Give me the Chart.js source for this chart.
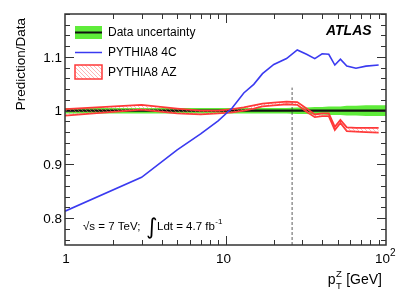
<!DOCTYPE html>
<html>
<head>
<meta charset="utf-8">
<script src="https://cdn.jsdelivr.net/npm/chart.js@4/dist/chart.umd.min.js"></script>
<style>
  html, body { margin: 0; padding: 0; background: #fff; }
  canvas { display: block; }
</style>
</head>
<body>
<canvas id="c" width="407" height="292"></canvas>
<script>
// bin centres of the pT(Z) measurement [GeV]
var ptCentres = [1, 3, 5, 7, 9, 11, 13, 15, 17, 20, 24, 28, 32, 36, 40, 44, 48, 52, 57, 65, 75, 90];
var ptLastEdge = 100;

// PYTHIA8 4C / data
var pythia4C = [0.813, 0.876, 0.927, 0.957, 0.981, 1.005, 1.033, 1.049, 1.069, 1.086, 1.097, 1.113,
                1.105, 1.097, 1.106, 1.105, 1.085, 1.096, 1.083, 1.079, 1.083, 1.085];

// PYTHIA8 AZ / data, band edges
var azUpper = [1.003, 1.011, 1.004, 1.000, 1.000, 1.003, 1.006, 1.010, 1.013, 1.015, 1.017, 1.016,
               1.004, 0.993, 0.995, 0.995, 0.970, 0.983, 0.969, 0.968, 0.968, 0.968];
var azLower = [0.991, 1.002, 0.995, 0.993, 0.995, 0.997, 1.000, 1.004, 1.008, 1.010, 1.012, 1.011,
               0.998, 0.988, 0.990, 0.990, 0.964, 0.977, 0.962, 0.961, 0.960, 0.959];

// relative data uncertainty (last value repeated up to the last bin edge)
var dataUnc = [0.005, 0.005, 0.005, 0.005, 0.005, 0.005, 0.005, 0.005, 0.005, 0.005, 0.005, 0.006,
               0.006, 0.007, 0.007, 0.008, 0.008, 0.008, 0.009, 0.009, 0.010, 0.010, 0.010];

// axis ranges and ticks
var xMin = 1, xMax = 100;
var yMin = 0.75, yMax = 1.18;
var yMajor = [0.8, 0.9, 1.0, 1.1];
var yMinorStep = 0.02;
var xMajor = [1, 10, 100];

// fit range marker
var cutPt = 26;
var cutTop = 1.043;

var green = '#5fec3a';
var red = '#ff3838';
var blue = '#3a3af0';

var bandX = ptCentres.concat([ptLastEdge]);

function pts(xs, ys) {
	return xs.map(function (x, i) { return { x: x, y: ys[i] }; });
}

var ctx = document.getElementById('c').getContext('2d');

function hatchPattern() {
	var c = document.createElement('canvas');
	c.width = 4; c.height = 4;
	var g = c.getContext('2d');
	g.strokeStyle = 'rgba(255,110,110,0.5)';
	g.lineWidth = 1;
	[-4, 0, 4].forEach(function (o) {
		g.beginPath();
		g.moveTo(o, 0);
		g.lineTo(o + 4, 4);
		g.stroke();
	});
	return ctx.createPattern(c, 'repeat');
}
var hatch = hatchPattern();

var ones = bandX.map(function () { return 1; });
var uncUp = dataUnc.map(function (u) { return 1 + u; });
var uncLow = dataUnc.map(function (u) { return 1 - u; });

var atlasFrame = {
	id: 'atlasFrame',
	beforeDraw: function (chart) {
		var c = chart.ctx;
		c.save();
		c.fillStyle = '#fff';
		c.fillRect(0, 0, chart.width, chart.height);
		c.restore();
	},
	afterDraw: function (chart) {
		var c = chart.ctx;
		var a = chart.chartArea;
		var xs = chart.scales.x, ys = chart.scales.y;
		c.save();

		// frame
		c.strokeStyle = '#333';
		c.lineWidth = 1.5;
		c.strokeRect(a.left, a.top, a.right - a.left, a.bottom - a.top);

		// y ticks (inside, left and right)
		c.lineWidth = 1;
		for (var v = 0.76; v <= yMax + 1e-9; v += yMinorStep) {
			var yy = Math.round(ys.getPixelForValue(v)) + 0.5;
			var major = yMajor.some(function (m) { return Math.abs(m - v) < 1e-6; });
			var len = major ? 9 : 5;
			c.beginPath();
			c.moveTo(a.left, yy); c.lineTo(a.left + len, yy);
			c.moveTo(a.right, yy); c.lineTo(a.right - len, yy);
			c.stroke();
		}

		// x ticks (log, inside, bottom and top)
		for (var d = 1; d < xMax; d *= 10) {
			for (var k = 1; k <= 9; k++) {
				var val = d * k;
				if (val <= xMin || val >= xMax) continue;
				var xx = Math.round(xs.getPixelForValue(val)) + 0.5;
				var l = (k === 1) ? 9 : 5;
				c.beginPath();
				c.moveTo(xx, a.bottom); c.lineTo(xx, a.bottom - l);
				c.moveTo(xx, a.top); c.lineTo(xx, a.top + l);
				c.stroke();
			}
		}

		c.fillStyle = '#000';
		// y tick labels
		c.font = '13.5px "Liberation Sans", Arial, sans-serif';
		c.textAlign = 'right';
		c.textBaseline = 'middle';
		yMajor.forEach(function (m) {
			c.fillText(String(m === 1 ? 1 : m), a.left - 3, ys.getPixelForValue(m) + 1);
		});

		// x tick labels
		c.textAlign = 'center';
		c.textBaseline = 'alphabetic';
		xMajor.forEach(function (m) {
			var px = xs.getPixelForValue(m);
			if (m === 100) {
				c.textAlign = 'left';
				c.fillText('10', px - 11, 263);
				c.font = '10px "Liberation Sans", Arial, sans-serif';
				c.fillText('2', px + 4, 256);
				c.font = '13.5px "Liberation Sans", Arial, sans-serif';
			} else {
				c.textAlign = 'center';
				c.fillText(String(m), px - (m === 10 ? 2 : -1), 263);
			}
		});

		// y title
		c.save();
		c.translate(21, 18);
		c.rotate(-Math.PI / 2);
		c.textAlign = 'right';
		c.textBaseline = 'middle';
		c.font = '13.5px "Liberation Sans", Arial, sans-serif';
		c.fillText('Prediction/Data', 0, 0);
		c.restore();

		// x title: p_T^Z [GeV]
		c.textAlign = 'left';
		c.textBaseline = 'alphabetic';
		var big = '14px "Liberation Sans", Arial, sans-serif';
		var small = '9.5px "Liberation Sans", Arial, sans-serif';
		c.font = big;
		var wTail = c.measureText(' [GeV]').width;
		var wP = c.measureText('p').width;
		c.font = small;
		var wSub = c.measureText('T').width;
		var xEnd = 382;
		var x0 = xEnd - wTail - wSub - 1 - wP;
		c.font = big;
		c.fillText('p', x0, 284);
		c.font = small;
		c.fillText('Z', x0 + wP + 0.5, 277);
		c.fillText('T', x0 + wP + 0.5, 289);
		c.font = big;
		c.fillText(' [GeV]', x0 + wP + wSub + 1, 284);

		// ATLAS label
		c.font = 'italic bold 14px "Liberation Sans", Arial, sans-serif';
		c.fillText('ATLAS', 326, 35);

		// energy / luminosity
		c.font = '11.5px "Liberation Sans", Arial, sans-serif';
		c.fillText('\u221As = 7 TeV;', 83, 230);
		c.font = '22px "DejaVu Sans", sans-serif';
		c.fillText('\u222B', 146, 234);
		c.font = '11.5px "Liberation Sans", Arial, sans-serif';
		c.fillText('Ldt = 4.7 fb', 157, 230);
		var wl = c.measureText('Ldt = 4.7 fb').width;
		c.font = '8px "Liberation Sans", Arial, sans-serif';
		c.fillText('-1', 157 + wl + 0.5, 224);

		// legend
		var lx = 75, lw = 27;
		c.fillStyle = green;
		c.fillRect(lx, 26, lw, 13);
		c.strokeStyle = '#111';
		c.lineWidth = 2;
		c.beginPath(); c.moveTo(lx, 32.5); c.lineTo(lx + lw, 32.5); c.stroke();
		c.strokeStyle = blue;
		c.lineWidth = 1.5;
		c.beginPath(); c.moveTo(lx, 52.5); c.lineTo(lx + lw, 52.5); c.stroke();
		c.fillStyle = hatch;
		c.fillRect(lx, 65, lw, 14);
		c.strokeStyle = red;
		c.lineWidth = 1.5;
		c.strokeRect(lx, 65, lw, 14);
		c.fillStyle = '#000';
		c.font = '12px "Liberation Sans", Arial, sans-serif';
		c.textBaseline = 'middle';
		c.fillText('Data uncertainty', 108, 33);
		c.fillText('PYTHIA8 4C', 108, 53);
		c.fillText('PYTHIA8 AZ', 108, 72.5);

		c.restore();
	}
};

var chart = new Chart(ctx, {
	type: 'line',
	data: {
		datasets: [
			{ label: 'PYTHIA8 4C', data: pts(ptCentres, pythia4C), borderColor: blue, borderWidth: 1.6, fill: false },
			{ label: 'AZ up', data: pts(ptCentres, azUpper), borderColor: red, borderWidth: 1.8, backgroundColor: hatch, fill: '+1' },
			{ label: 'AZ low', data: pts(ptCentres, azLower), borderColor: red, borderWidth: 1.8, fill: false },
			{ label: 'cut', data: [{ x: cutPt, y: yMin }, { x: cutPt, y: cutTop }], borderColor: '#333', borderWidth: 0.8, borderDash: [3, 2], fill: false },
			{ label: 'ratio', data: pts(bandX, ones), borderColor: '#111', borderWidth: 2.2, fill: false },
			{ label: 'unc up', data: pts(bandX, uncUp), borderColor: green, borderWidth: 0, backgroundColor: green, fill: '+1' },
			{ label: 'unc low', data: pts(bandX, uncLow), borderColor: green, borderWidth: 0, fill: false }
		]
	},
	options: {
		responsive: false,
		animation: false,
		devicePixelRatio: 1,
		layout: { padding: { left: 65, right: 21, top: 14, bottom: 47 } },
		elements: { point: { radius: 0 }, line: { tension: 0 } },
		plugins: { legend: { display: false }, tooltip: { enabled: false } },
		scales: {
			x: { type: 'logarithmic', min: xMin, max: xMax, display: false },
			y: { type: 'linear', min: yMin, max: yMax, display: false }
		}
	},
	plugins: [atlasFrame]
});
</script>
</body>
</html>
